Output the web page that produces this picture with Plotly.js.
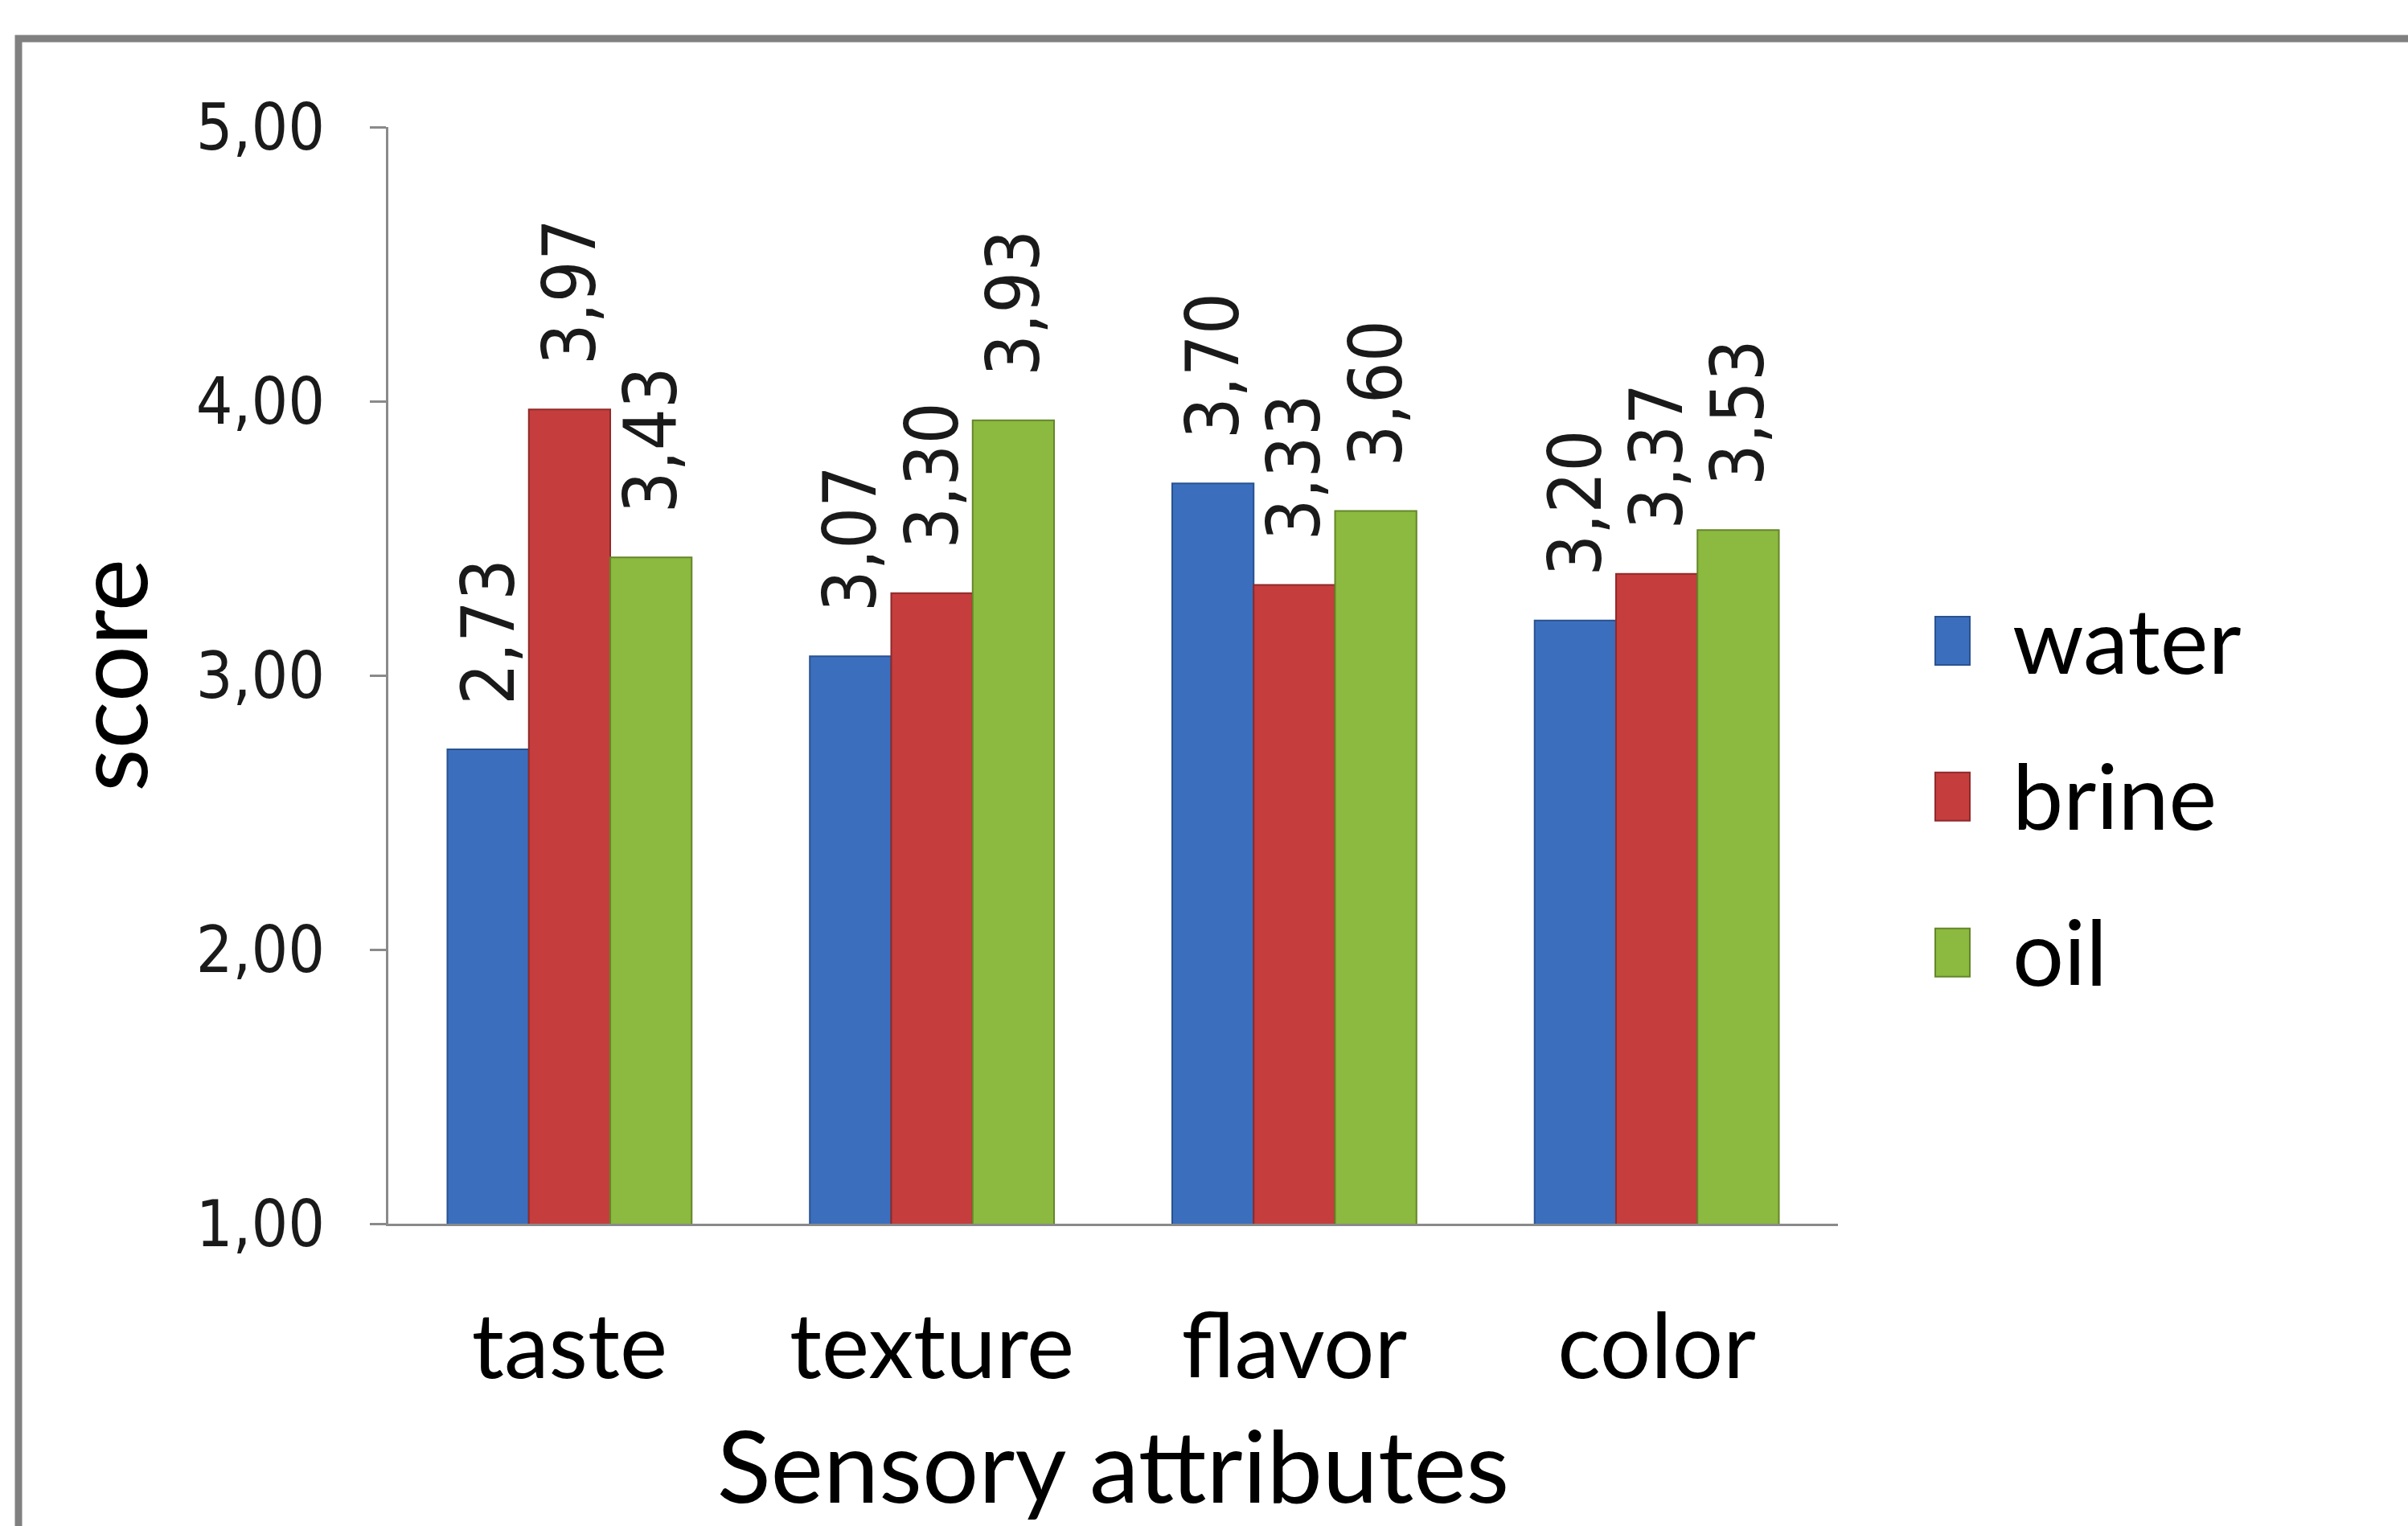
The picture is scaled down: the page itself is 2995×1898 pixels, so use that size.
<!DOCTYPE html>
<html>
<head>
<meta charset="utf-8">
<script src="https://cdn.plot.ly/plotly-3.0.1.min.js"></script>
<style>
  html, body { margin: 0; padding: 0; background: #ffffff; }
  #chart { width: 2995px; height: 1898px; }
</style>
</head>
<body>
<div id="chart"></div>
<script>
// ---- data ----
const categories = ['taste', 'texture', 'flavor', 'color'];
const seriesNames = ['water', 'brine', 'oil'];
const water = [2.73, 3.07, 3.70, 3.20];
const brine = [3.97, 3.30, 3.33, 3.37];
const oil   = [3.43, 3.93, 3.60, 3.53];
const yTickVals = [1, 2, 3, 4, 5];
const xTitle = 'Sensory attributes';
const yTitle = 'score';

const seriesValues = [water, brine, oil];
const fills = ['#3b6fbe', '#c63d3d', '#8cb93f'];
const edges = ['#2a5290', '#8f2a2a', '#64862a'];

const labelFont = 'Lato, "Open Sans", sans-serif';
const numFont = '"DejaVu Sans Condensed", "DejaVu Sans", sans-serif';

const traces = seriesValues.map((vals, i) => ({
  type: 'bar',
  name: seriesNames[i],
  x: categories,
  y: vals,
  legendgroup: seriesNames[i],
  marker: { color: fills[i], line: { color: edges[i], width: 2 } },
  texttemplate: '\u00a0\u00a0%{y:.2f}',
  textposition: 'outside',
  textangle: -90,
  constraintext: 'none',
  cliponaxis: false,
  textfont: { family: numFont, size: 91, color: '#1a1a1a' },
  hoverinfo: 'skip'
}));

const W = 2995, H = 1898;
const mL = 483, mR = W - 2286, mT = 158, mB = H - 1522;
const pw = W - mL - mR, ph = H - mT - mB;
const px = v => (v - mL) / pw;
const py = v => (H - mB - v) / ph;

const layout = {
  width: W,
  height: H,
  separators: ',.',
  paper_bgcolor: '#ffffff',
  plot_bgcolor: '#ffffff',
  margin: { l: mL, r: mR, t: mT, b: mB, pad: 0 },
  barmode: 'group',
  bargap: 0.326,
  bargroupgap: 0,
  showlegend: true,
  legend: {
    x: px(2463), xanchor: 'left',
    y: py(988), yanchor: 'middle',
    font: { family: labelFont, size: 113, color: '#000000' },
    tracegroupgap: 44,
    traceorder: 'grouped',
    bgcolor: 'rgba(0,0,0,0)'
  },
  xaxis: {
    type: 'category',
    showline: true,
    linecolor: '#8a8a8a',
    linewidth: 3,
    showgrid: false,
    zeroline: false,
    ticks: '',
    ticklabelstandoff: 55,
    tickfont: { family: labelFont, size: 112, color: '#000000' },
    title: { text: xTitle, font: { family: labelFont, size: 124, color: '#000000' }, standoff: 45 }
  },
  yaxis: {
    range: [1, 5],
    tickvals: yTickVals,
    tickformat: '.2f',
    showline: true,
    linecolor: '#8a8a8a',
    linewidth: 3,
    showgrid: false,
    zeroline: false,
    ticks: 'outside',
    ticklen: 20,
    tickwidth: 3,
    tickcolor: '#8a8a8a',
    ticklabelstandoff: 40,
    tickfont: { family: numFont, size: 80, color: '#1a1a1a' },
    title: { text: yTitle, font: { family: labelFont, size: 124, color: '#000000' }, standoff: 19 }
  },
  shapes: [{
    type: 'rect', xref: 'paper', yref: 'paper',
    x0: px(23), x1: px(3020), y0: py(1930), y1: py(48),
    line: { color: '#808080', width: 9 },
    fillcolor: 'rgba(0,0,0,0)',
    layer: 'below'
  }]
};

Plotly.newPlot('chart', traces, layout, { displayModeBar: false, staticPlot: true }).then(gd => {
  // let the larger legend swatches show in full, then enlarge them
  gd.querySelectorAll('.legend [clip-path]').forEach(el => el.removeAttribute('clip-path'));
  gd.querySelectorAll('.legend .legendpoints path').forEach(p => {
    p.setAttribute('d', 'M-56,33H-13V-27H-56Z');
    p.removeAttribute('transform');
    p.style.strokeWidth = '2px';
  });
});
</script>
</body>
</html>
